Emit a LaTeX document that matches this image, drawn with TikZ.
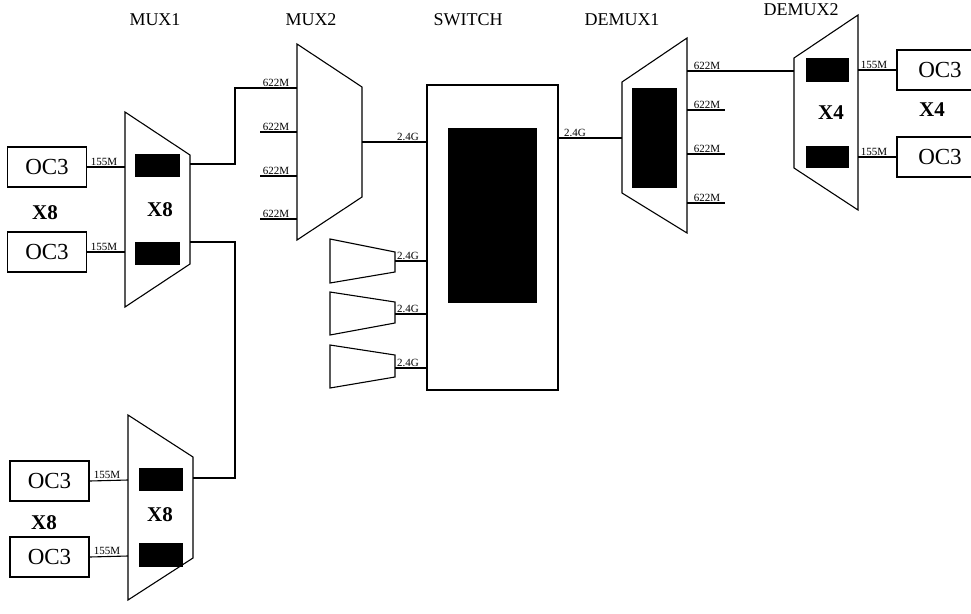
\documentclass[tikz,border=0pt]{standalone}
\usepackage{fontspec}
\setmainfont{Liberation Serif}
\begin{document}
\begin{tikzpicture}[x=1pt,y=-1pt, line width=1.1pt, line join=miter,
 box/.style={draw, minimum width=79pt, minimum height=40pt, inner sep=0pt, font=\fontsize{23}{23}\selectfont},
 blk/.style={fill=black, draw=none, inner sep=0pt},
 lbl/.style={font=\fontsize{11}{11}\selectfont, inner sep=0.5pt, anchor=south},
 ttl/.style={font=\fontsize{18}{18}\selectfont, inner sep=0pt},
 big/.style={font=\fontsize{21}{21}\selectfont\bfseries, inner sep=0pt},
 trap/.style={draw}]
\useasboundingbox (0,0) rectangle (971,613);
\clip (0,0) rectangle (971,613);

% titles
\node[ttl] (tm1) at (155,20) {MUX1};
\node[ttl] (tm2) at (311,20) {MUX2};
\node[ttl] (tsw) at (468,20) {SWITCH};
\node[ttl] (td1) at (622,20) {DEMUX1};
\node[ttl] (td2) at (801,10) {DEMUX2};

% MUX1 (top)
\draw[trap] (125,112) -- (190,155) -- (190,264) -- (125,307) -- cycle;
\node[blk, minimum width=45pt, minimum height=23pt] (m1b1) at (157.5,165.5) {};
\node[blk, minimum width=45pt, minimum height=23pt] (m1b2) at (157.5,253.5) {};
\node[big] (m1x) at (160,210) {X8};
\coordinate (m1i1) at (125,167);
\coordinate (m1i2) at (125,252);
\coordinate (m1o1) at (190,164);
\coordinate (m1o2) at (190,242);
\node[box] (oa1) at (47,167) {OC3};
\node[box] (oa2) at (47,252) {OC3};
\node[big] (xa) at (45,213) {X8};
\draw (oa1.east) -- (m1i1);
\draw (oa2.east) -- (m1i2);
\node[lbl] (la1) at (104,167) {155M};
\node[lbl] (la2) at (104,252) {155M};

% MUX (bottom)
\draw[trap] (128,415) -- (193,457) -- (193,558) -- (128,600) -- cycle;
\node[blk, minimum width=44pt, minimum height=23pt] (m3b1) at (161,479.5) {};
\node[blk, minimum width=44pt, minimum height=24pt] (m3b2) at (161,555) {};
\node[big] (m3x) at (160,515) {X8};
\coordinate (m3i1) at (128,480);
\coordinate (m3i2) at (128,556);
\coordinate (m3o) at (193,478);
\node[box] (ob1) at (49.5,481) {OC3};
\node[box] (ob2) at (49.5,557) {OC3};
\node[big] (xb) at (44,523) {X8};
\draw (ob1.east) -- (m3i1);
\draw (ob2.east) -- (m3i2);
\node[lbl] (lb1) at (107,480) {155M};
\node[lbl] (lb2) at (107,556) {155M};

% MUX1 -> MUX2 / bottom MUX -> MUX1 line
\coordinate (c1) at (235,88);
\coordinate (c2) at (235,478);
\coordinate (m2i1) at (297,88);
\draw (m1o1) -| (c1) -- (m2i1);
\draw (m1o2) -| (c2) -- (m3o);

% MUX2
\draw[trap] (297,44) -- (362,87) -- (362,197) -- (297,240) -- cycle;
\coordinate (m2i2) at (297,132);
\coordinate (m2i3) at (297,176);
\coordinate (m2i4) at (297,219);
\coordinate (s2) at (260,132);
\coordinate (s3) at (260,176);
\coordinate (s4) at (260,219);
\draw (s2) -- (m2i2);
\draw (s3) -- (m2i3);
\draw (s4) -- (m2i4);
\node[lbl] (lm1) at (276,88) {622M};
\node[lbl] (lm2) at (276,132) {622M};
\node[lbl] (lm3) at (276,176) {622M};
\node[lbl] (lm4) at (276,219) {622M};
\coordinate (m2o) at (362,142);

% SWITCH
\node[draw, minimum width=131pt, minimum height=305pt, inner sep=0pt] (sw) at (492.5,237.5) {};
\node[blk, minimum width=89pt, minimum height=175pt] (swb) at (492.5,215.5) {};
\draw (m2o) -- (m2o -| sw.west);
\node[lbl] (ls0) at (408,142) {2.4G};

% small trapezoids
\draw[trap] (330,239) -- (395,252) -- (395,272) -- (330,283) -- cycle;
\draw[trap] (330,292) -- (395,302) -- (395,323) -- (330,335) -- cycle;
\draw[trap] (330,345) -- (395,355) -- (395,377) -- (330,388) -- cycle;
\coordinate (t1) at (395,261);
\coordinate (t2) at (395,314);
\coordinate (t3) at (395,368);
\draw (t1) -- (t1 -| sw.west);
\draw (t2) -- (t2 -| sw.west);
\draw (t3) -- (t3 -| sw.west);
\node[lbl] (ls1) at (408,261) {2.4G};
\node[lbl] (ls2) at (408,314) {2.4G};
\node[lbl] (ls3) at (408,368) {2.4G};

% DEMUX1
\draw[trap] (622,82) -- (687,38) -- (687,233) -- (622,193) -- cycle;
\node[blk, minimum width=45pt, minimum height=100pt] (d1b) at (654.5,138) {};
\coordinate (d1i) at (622,138);
\draw (d1i -| sw.east) -- (d1i);
\node[lbl] (ls4) at (575,138) {2.4G};
\coordinate (d1o1) at (687,71);
\coordinate (d1o2) at (687,110);
\coordinate (d1o3) at (687,154);
\coordinate (d1o4) at (687,203);
\coordinate (e2) at (725,110);
\coordinate (e3) at (725,154);
\coordinate (e4) at (725,203);
\draw (d1o2) -- (e2);
\draw (d1o3) -- (e3);
\draw (d1o4) -- (e4);
\node[lbl] (ld1) at (707,71) {622M};
\node[lbl] (ld2) at (707,110) {622M};
\node[lbl] (ld3) at (707,154) {622M};
\node[lbl] (ld4) at (707,203) {622M};

% DEMUX2
\draw[trap] (794,58) -- (858,15) -- (858,210) -- (794,168) -- cycle;
\node[blk, minimum width=43pt, minimum height=24pt] (d2b1) at (827.5,70) {};
\node[blk, minimum width=43pt, minimum height=22pt] (d2b2) at (827.5,157) {};
\node[big] (d2x) at (831,113) {X4};
\coordinate (d2i) at (794,71);
\draw (d1o1) -- (d2i);
\coordinate (d2o1) at (858,70);
\coordinate (d2o2) at (858,157);
\node[box, minimum width=86pt] (oc1) at (940,70) {OC3};
\node[box, minimum width=86pt] (oc2) at (940,157) {OC3};
\draw (d2o1) -- (oc1.west);
\draw (d2o2) -- (oc2.west);
\node[lbl] (lc1) at (874,70) {155M};
\node[lbl] (lc2) at (874,157) {155M};
\node[big] (xc) at (932,110) {X4};
\end{tikzpicture}
\end{document}
